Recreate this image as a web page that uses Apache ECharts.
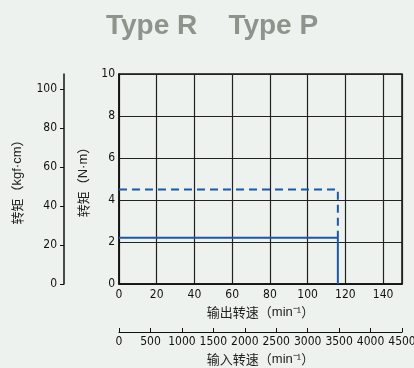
<!DOCTYPE html>
<html>
<head>
<meta charset="utf-8">
<script src="https://cdn.jsdelivr.net/npm/echarts@6/dist/echarts.min.js"></script>
<style>
html,body{margin:0;padding:0;background:#eef2ef}
#chart{width:414px;height:368px}
</style>
</head>
<body>
<div id="chart"></div>
<script>
// values
var outSpeedMax = 150;       // min^-1, output shaft
var inSpeedMax = 4500;       // min^-1, input shaft
var torqueMaxNm = 10;
var torqueMaxKgf = 107.7;    // matches 10 N·m on the left scale
var cutoffSpeed = 116;       // output speed where the curves drop
var solidTorque = 2.2;       // N·m
var dashedTorque = 4.5;      // N·m

var solidLine = [[0, solidTorque], [cutoffSpeed, solidTorque], [cutoffSpeed, 0]];
var dashedLine = [[0, dashedTorque], [cutoffSpeed, dashedTorque], [cutoffSpeed, solidTorque]];

var numFont = '"DejaVu Sans Condensed", "Liberation Sans Narrow", sans-serif';
var cjkFont = '"Noto Sans CJK SC", sans-serif';
var blue = '#1b59a8';

function plain(v) { return String(v); }

function nameStyle() {
  return {
    color: '#222', fontSize: 13, fontFamily: cjkFont,
    rich: { l: { color: '#222', fontSize: 13, fontFamily: '"Liberation Sans", sans-serif' } }
  };
}

var myChart = echarts.init(document.getElementById('chart'));
var option = {
  backgroundColor: '#eef2ef',
  animation: false,
  title: {
    text: 'Type R    Type P',
    left: 101,
    top: 7,
    textStyle: { color: '#8e938b', fontSize: 28, fontWeight: 'bold', fontFamily: '"Liberation Sans", sans-serif' }
  },
  grid: {
    left: 119, right: 12, top: 74, bottom: 84, outerBoundsMode: 'none', containLabel: false,
    show: true, borderColor: '#111', borderWidth: 1.5, backgroundColor: 'transparent'
  },
  xAxis: [{
    type: 'value', min: 0, max: outSpeedMax, interval: 20, position: 'bottom',
    name: '输出转速（{l|min⁻¹}）', nameLocation: 'middle', nameGap: 22,
    nameTextStyle: nameStyle(),
    axisLine: { show: true, onZero: false, lineStyle: { color: '#111', width: 1.5 } },
    axisTick: { show: false },
    axisLabel: { color: '#111', fontSize: 12, fontFamily: numFont, margin: 5, showMaxLabel: false, formatter: plain },
    splitLine: { show: true, lineStyle: { color: '#222', width: 1.2 } }
  }, {
    type: 'value', min: 0, max: inSpeedMax, interval: 500, position: 'bottom', offset: 48,
    name: '输入转速（{l|min⁻¹}）', nameLocation: 'middle', nameGap: 21,
    nameTextStyle: nameStyle(),
    axisLine: { show: true, onZero: false, lineStyle: { color: '#111', width: 1.2 } },
    axisTick: { show: true, inside: true, length: 4, lineStyle: { color: '#111' } },
    axisLabel: { color: '#111', fontSize: 12, fontFamily: numFont, margin: 4, showMaxLabel: true, hideOverlap: false, formatter: plain },
    splitLine: { show: false }
  }],
  yAxis: [{
    type: 'value', min: 0, max: torqueMaxNm, interval: 2, position: 'left',
    name: '转矩（{l|N·m}）', nameLocation: 'middle', nameGap: 29, nameRotate: 90,
    nameTextStyle: nameStyle(),
    axisLine: { show: true, onZero: false, lineStyle: { color: '#111', width: 1.5 } },
    axisTick: { show: false },
    axisLabel: { color: '#111', fontSize: 12, fontFamily: numFont, margin: 4, formatter: plain },
    splitLine: { show: true, lineStyle: { color: '#222', width: 1.2 } }
  }, {
    type: 'value', min: 0, max: torqueMaxKgf, interval: 20, position: 'left', offset: 55,
    name: '转矩（{l|kgf·cm}）', nameLocation: 'middle', nameGap: 40, nameRotate: 90,
    nameTextStyle: nameStyle(),
    axisLine: { show: true, onZero: false, lineStyle: { color: '#111', width: 1.5 } },
    axisTick: { show: true, length: 4, lineStyle: { color: '#111' } },
    axisLabel: { color: '#111', fontSize: 12, fontFamily: numFont, margin: 7, showMaxLabel: false, formatter: plain },
    splitLine: { show: false }
  }],
  series: [{
    type: 'line', xAxisIndex: 0, yAxisIndex: 0, data: solidLine,
    symbol: 'none', lineStyle: { color: blue, width: 2 }
  }, {
    type: 'line', xAxisIndex: 0, yAxisIndex: 0, data: dashedLine,
    symbol: 'none', lineStyle: { color: blue, width: 2, type: [8, 5] }
  }]
};
myChart.setOption(option);
</script>
</body>
</html>
